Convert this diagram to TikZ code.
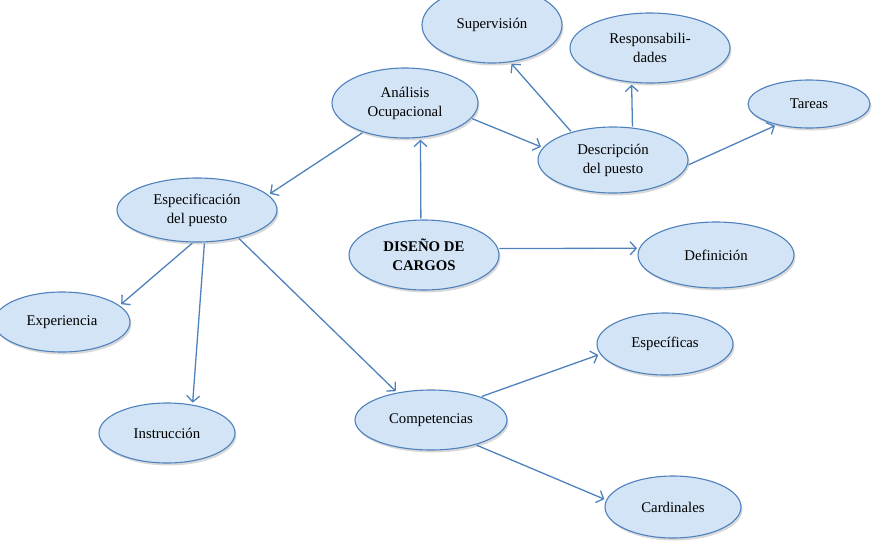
\documentclass[tikz,border=0pt]{standalone}
\usepackage{fontspec}
\setmainfont{Liberation Serif}
\usetikzlibrary{shapes.geometric,arrows.meta,shadows}

\definecolor{azulborde}{RGB}{79,129,189}
\definecolor{azulrelleno}{RGB}{210,228,245}

\begin{document}
\begin{tikzpicture}[
    x=1pt, y=-1pt,
    font=\fontsize{14.8}{19}\selectfont,
    % Estilos de los nodos
    burbuja/.style={ellipse, draw=azulborde, line width=1.1pt, fill=azulrelleno,
        inner sep=0pt, align=center,
        drop shadow={shadow xshift=1.5pt, shadow yshift=-2.5pt, opacity=0.3}},
    % Estilo de las flechas
    flecha/.style={draw=azulborde, line width=1.3pt,
        -{Straight Barb[length=6pt, width=13pt]}, shorten >=2pt, shorten <=1pt}
]

\clip (0,0) rectangle (873,542);

% ==========================================
% NODO CENTRAL Y PRIMER NIVEL
% ==========================================
\node[burbuja, minimum width=150, minimum height=70] (disenio) at (424,255) {\textbf{DISEÑO DE}\\\textbf{CARGOS}};
\node[burbuja, minimum width=146, minimum height=70] (analisis) at (405,103) {Análisis\\Ocupacional};
\node[burbuja, minimum width=156, minimum height=66] (definicion) at (716,255) {Definición};

% ==========================================
% RAMA: DESCRIPCIÓN DEL PUESTO
% ==========================================
\node[burbuja, minimum width=150, minimum height=66] (descripcion) at (613,160) {Descripción\\del puesto};
\node[burbuja, minimum width=140, minimum height=76] (supervision) at (492,25) {Supervisión};
\node[burbuja, minimum width=160, minimum height=70] (respons) at (650,48) {Responsabili-\\dades};
\node[burbuja, minimum width=122, minimum height=48] (tareas) at (809,104) {Tareas};

% ==========================================
% RAMA: ESPECIFICACIÓN DEL PUESTO
% ==========================================
\node[burbuja, minimum width=160, minimum height=64] (especif) at (197,210) {Especificación\\del puesto};
\node[burbuja, minimum width=136, minimum height=60] (experiencia) at (62,322) {Experiencia};
\node[burbuja, minimum width=136, minimum height=60] (instruccion) at (167,433) {Instrucción};
\node[burbuja, minimum width=152, minimum height=60] (competencias) at (431,420) {Competencias};
\node[burbuja, minimum width=136, minimum height=62] (especificas) at (665,344) {Específicas};
\node[burbuja, minimum width=136, minimum height=62] (cardinales) at (673,507) {Cardinales};

% ==========================================
% CONEXIONES
% ==========================================
\draw[flecha] (disenio.95) -- (analisis.-66);
\draw[flecha] (disenio.5) -- (definicion.175);
\draw[flecha] (analisis.-13) -- (descripcion.170);
\draw[flecha] (analisis.215) -- (especif.12);
\draw[flecha] (descripcion.146) -- (supervision.-64);
\draw[flecha] (descripcion.59) -- (respons.-118);
\draw[flecha] (descripcion.-4) -- (tareas.213);
\draw[flecha] (especif.263) -- (experiencia.16);
\draw[flecha] (especif.283) -- (instruccion.48);
\draw[flecha] (especif.-34) -- (competencias.141);
\draw[flecha] (competencias.25) -- (especificas.189);
\draw[flecha] (competencias.-29) -- (cardinales.174);

\end{tikzpicture}
\end{document}
